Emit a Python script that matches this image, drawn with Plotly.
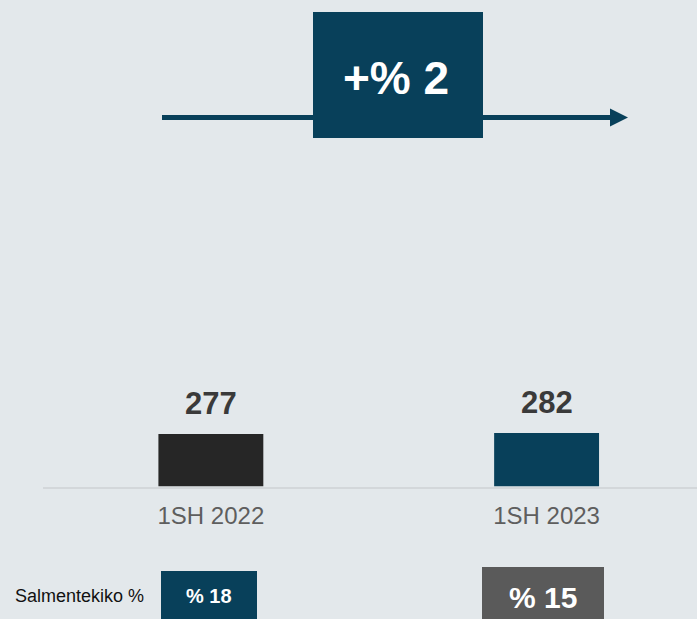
import plotly.graph_objects as go

# data
periods = ["1SH 2022", "1SH 2023"]
revenue = [277, 282]
change_label = "+% 2"
margin_title = "Salmentekiko %"
margin_labels = ["% 18", "% 15"]

BG = "#E3E8EB"
TEAL = "#08405A"
DARK = "#262626"
GREY = "#5A5A5A"
FONT = "Liberation Sans, Arial"
W, H = 697, 619


def px(x):
    return x / W


def py(y):
    return 1 - y / H


fig = go.Figure()
fig.add_trace(go.Bar(
    x=periods, y=revenue,
    marker_color=[DARK, TEAL], marker_line_width=0,
    width=0.3125, hoverinfo="skip",
))

# value labels above the bars
for p, v in zip(periods, revenue):
    fig.add_annotation(x=p, y=v, text=f"<b>{v}</b>", showarrow=False,
                       xanchor="center", yanchor="bottom", yshift=11,
                       font=dict(family=FONT, size=31, color="#3A3A3A"))

shapes = []
# growth arrow with box
shapes.append(dict(type="line", xref="paper", yref="paper",
                   x0=px(162), x1=px(612), y0=py(117.5), y1=py(117.5),
                   line=dict(color=TEAL, width=5)))
shapes.append(dict(type="path", xref="paper", yref="paper",
                   path=f"M {px(610)} {py(108.5)} L {px(628)} {py(117.5)} L {px(610)} {py(126.5)} Z",
                   fillcolor=TEAL, line=dict(width=0)))
shapes.append(dict(type="rect", xref="paper", yref="paper",
                   x0=px(313), x1=px(483), y0=py(138), y1=py(12),
                   fillcolor=TEAL, line=dict(width=0)))
# margin boxes
shapes.append(dict(type="rect", xref="paper", yref="paper",
                   x0=px(161), x1=px(257), y0=py(625), y1=py(571),
                   fillcolor=TEAL, line=dict(width=0)))
shapes.append(dict(type="rect", xref="paper", yref="paper",
                   x0=px(482), x1=px(604), y0=py(625), y1=py(567),
                   fillcolor=GREY, line=dict(width=0)))


def label(x, y, text, size, color, xanchor="center"):
    fig.add_annotation(xref="paper", yref="paper", x=px(x), y=py(y),
                       xanchor=xanchor, yanchor="middle",
                       text=text, showarrow=False,
                       font=dict(family=FONT, size=size, color=color))


label(396, 78, f"<b>{change_label}</b>", 46, "white")
label(13, 596, margin_title, 18, "#111111", xanchor="left")
label(209, 596, f"<b>{margin_labels[0]}</b>", 20, "white")
label(543, 597, f"<b>{margin_labels[1]}</b>", 30, "white")

fig.update_layout(
    width=W, height=H,
    margin=dict(l=0, r=0, t=0, b=0),
    paper_bgcolor=BG, plot_bgcolor=BG,
    showlegend=False,
    shapes=shapes,
    xaxis=dict(domain=[px(43), 1], range=[-0.5, 1.448],
               showgrid=False, zeroline=False,
               showline=True, linecolor="#D3D7DA", linewidth=2,
               ticks="outside", ticklen=7, tickcolor="rgba(0,0,0,0)",
               tickfont=dict(family=FONT, size=24, color="#5E5E5E")),
    yaxis=dict(domain=[132.5 / H, 1], range=[0, 2565],
               showgrid=False, zeroline=False, showticklabels=False, showline=False),
)

fig.write_html("out.html", config={"displayModeBar": False},
               post_script="document.body.style.margin='0';document.body.style.background='%s';" % BG)
